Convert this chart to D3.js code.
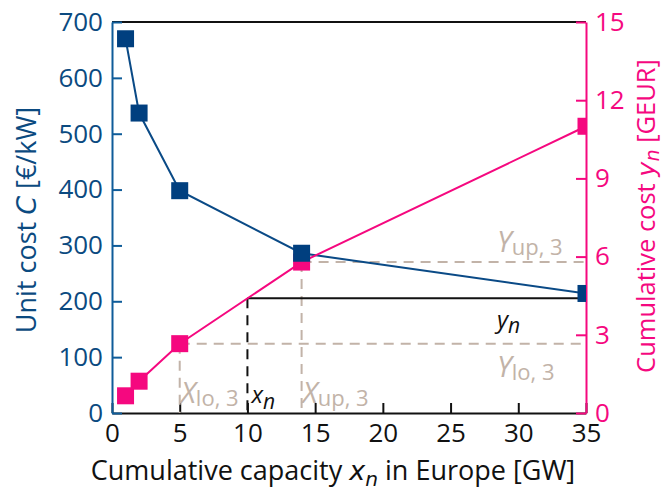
<!DOCTYPE html>
<html>
<head>
<meta charset="utf-8">
<script src="https://cdn.jsdelivr.net/npm/d3@7/dist/d3.min.js"></script>
<style>
  html, body { margin: 0; padding: 0; background: #fff; }
  svg { display: block; }
  text { font-family: "Open Sans", "Noto Sans", sans-serif; }
</style>
</head>
<body>
<svg id="chart" width="667" height="493"></svg>
<script>
// Capacity steps (GW) and the two series
const capacity = [1, 2, 5, 14, 35];
const unitCost = [670, 537, 398, 286, 214];        // €/kW
const cumulativeCost = [0.66, 1.22, 2.66, 5.79, 11.0]; // GEUR

const xTicks = [0, 5, 10, 15, 20, 25, 30, 35];
const leftTicks = [0, 100, 200, 300, 400, 500, 600, 700];
const rightTicks = [0, 3, 6, 9, 12, 15];

// Interpolation segment (n = 3) and the sample point
const segLo = 2, segUp = 3;  // indices into capacity / cumulativeCost
const xn = 10;

const BLUE = "#0a4a86", BLUE_MARK = "#003f7f", BLUE_TXT = "#0b4a80";
const PINK = "#f5087f", TAN = "#c2b3a8";

const W = 667, H = 493;
const m = { left: 112, right: 81, top: 22, bottom: 80 };
const svg = d3.select("#chart");

const x = d3.scaleLinear().domain([0, 35]).range([m.left, W - m.right]);
const yL = d3.scaleLinear().domain([0, 700]).range([H - m.bottom, m.top]);
const yR = d3.scaleLinear().domain([0, 15]).range([H - m.bottom, m.top]);

svg.append("defs").append("clipPath").attr("id", "plot")
  .append("rect").attr("x", m.left).attr("y", m.top)
  .attr("width", W - m.left - m.right).attr("height", H - m.top - m.bottom);

// Frame top line
svg.append("line").attr("x1", m.left).attr("x2", W - m.right)
  .attr("y1", m.top).attr("y2", m.top).attr("stroke", "#111").attr("stroke-width", 2);

// Axes
const fs = 26;
const gx = svg.append("g").attr("transform", `translate(0,${H - m.bottom})`)
  .call(d3.axisBottom(x).tickValues(xTicks).tickSizeInner(-10).tickSizeOuter(0).tickPadding(11));
gx.select(".domain").attr("stroke", "#111").attr("stroke-width", 2);
gx.selectAll(".tick line").attr("stroke", "#111").attr("stroke-width", 2);
gx.selectAll(".tick text").attr("font-size", fs).attr("fill", "#111")
  .attr("font-family", "Open Sans");

const gl = svg.append("g").attr("transform", `translate(${m.left},0)`)
  .call(d3.axisLeft(yL).tickValues(leftTicks).tickSizeInner(-10).tickSizeOuter(0).tickPadding(9));
gl.select(".domain").attr("stroke", "#0f5c99").attr("stroke-width", 2);
gl.selectAll(".tick line").attr("stroke", "#0f5c99").attr("stroke-width", 2);
gl.selectAll(".tick text").attr("font-size", fs).attr("fill", BLUE_TXT)
  .attr("font-family", "Open Sans");

const gr = svg.append("g").attr("transform", `translate(${W - m.right},0)`)
  .call(d3.axisRight(yR).tickValues(rightTicks).tickSizeInner(-10).tickSizeOuter(0).tickPadding(9));
gr.select(".domain").attr("stroke", PINK).attr("stroke-width", 2);
gr.selectAll(".tick line").attr("stroke", PINK).attr("stroke-width", 2);
gr.selectAll(".tick text").attr("font-size", fs).attr("fill", PINK)
  .attr("font-family", "Open Sans");

// Axis titles
const tfs = 27;
const xt = svg.append("text").attr("x", (m.left + W - m.right) / 2 - 16).attr("y", 480)
  .attr("text-anchor", "middle").attr("font-size", tfs).attr("fill", "#111");
xt.append("tspan").text("Cumulative capacity ");
xt.append("tspan").text("x").attr("font-family", "DejaVu Sans").attr("font-style", "italic");
xt.append("tspan").text("n").attr("font-family", "DejaVu Sans").attr("font-style", "italic")
  .attr("font-size", tfs * 0.75).attr("dy", 6);
xt.append("tspan").text(" in Europe [GW]").attr("dy", -6);

const lt = svg.append("text").attr("transform", "translate(36,220) rotate(-90)")
  .attr("text-anchor", "middle").attr("font-size", tfs).attr("fill", BLUE_TXT);
lt.append("tspan").text("Unit cost ");
lt.append("tspan").text("C").attr("font-family", "DejaVu Sans").attr("font-style", "italic");
lt.append("tspan").text(" [€/kW]");

const rfs = 25.5;
const rt = svg.append("text").attr("transform", "translate(655,216) rotate(-90)")
  .attr("text-anchor", "middle").attr("font-size", rfs).attr("fill", PINK);
rt.append("tspan").text("Cumulative cost ");
rt.append("tspan").text("y").attr("font-family", "DejaVu Sans").attr("font-style", "italic");
rt.append("tspan").text("n").attr("font-family", "DejaVu Sans").attr("font-style", "italic")
  .attr("font-size", rfs * 0.75).attr("dy", 4);
rt.append("tspan").text(" [GEUR]").attr("dy", -4);

// Guide lines for the interpolation step
const plot = svg.append("g").attr("clip-path", "url(#plot)");
const yLo = cumulativeCost[segLo], yUp = cumulativeCost[segUp];
const xLo = capacity[segLo], xUp = capacity[segUp];
const yn = yLo + (xn - xLo) / (xUp - xLo) * (yUp - yLo);

const dash = "10,7";
plot.append("line").attr("x1", x(xLo)).attr("x2", x(35)).attr("y1", yR(yLo)).attr("y2", yR(yLo))
  .attr("stroke", TAN).attr("stroke-width", 2).attr("stroke-dasharray", dash);
plot.append("line").attr("x1", x(xUp)).attr("x2", x(35)).attr("y1", yR(yUp)).attr("y2", yR(yUp))
  .attr("stroke", TAN).attr("stroke-width", 2).attr("stroke-dasharray", dash);
plot.append("line").attr("x1", x(xLo)).attr("x2", x(xLo)).attr("y1", yR(yLo)).attr("y2", yR(0))
  .attr("stroke", TAN).attr("stroke-width", 2).attr("stroke-dasharray", dash);
plot.append("line").attr("x1", x(xUp)).attr("x2", x(xUp)).attr("y1", yR(yUp)).attr("y2", yR(0))
  .attr("stroke", TAN).attr("stroke-width", 2).attr("stroke-dasharray", dash);
plot.append("line").attr("x1", x(xn)).attr("x2", x(xn)).attr("y1", yR(yn)).attr("y2", yR(0))
  .attr("stroke", "#111").attr("stroke-width", 2).attr("stroke-dasharray", dash);
plot.append("line").attr("x1", x(xn)).attr("x2", x(35)).attr("y1", yR(yn)).attr("y2", yR(yn))
  .attr("stroke", "#111").attr("stroke-width", 2);

// Series lines
const lineL = d3.line().x((d, i) => x(capacity[i])).y(d => yL(d));
const lineR = d3.line().x((d, i) => x(capacity[i])).y(d => yR(d));
plot.append("path").attr("d", lineL(unitCost)).attr("fill", "none")
  .attr("stroke", BLUE).attr("stroke-width", 2);
plot.append("path").attr("d", lineR(cumulativeCost)).attr("fill", "none")
  .attr("stroke", PINK).attr("stroke-width", 2);

// Square markers
const S = 17;
plot.selectAll(".mR").data(cumulativeCost).join("rect").attr("class", "mR")
  .attr("x", (d, i) => x(capacity[i]) - S / 2).attr("y", d => yR(d) - S / 2)
  .attr("width", S).attr("height", S).attr("fill", PINK);
plot.selectAll(".mL").data(unitCost).join("rect").attr("class", "mL")
  .attr("x", (d, i) => x(capacity[i]) - S / 2).attr("y", d => yL(d) - S / 2)
  .attr("width", S).attr("height", S).attr("fill", BLUE_MARK);

// Annotation labels: italic symbol with a lowered subscript
function label(px, py, main, sub, color, size, subSize, drop, italicSub) {
  const t = svg.append("text").attr("x", px).attr("y", py).attr("fill", color)
    .attr("font-family", "DejaVu Sans").attr("font-size", size);
  t.append("tspan").text(main).attr("font-style", "italic");
  t.append("tspan").text(sub).attr("font-size", subSize).attr("dy", drop)
    .attr("font-style", italicSub ? "italic" : "normal");
}
label(x(xLo) + 1, 403, "X", "lo, 3", TAN, 29, 22, 3, false);
label(x(xn) + 4, 403, "x", "n", "#111", 24, 21, 6, true);
label(x(xUp) + 1, 403, "X", "up, 3", TAN, 29, 22, 3, false);
label(497, 252, "Y", "up, 3", TAN, 29, 22, 3, false);
label(497, 328, "y", "n", "#111", 24, 21, 5, true);
label(497, 377, "Y", "lo, 3", TAN, 29, 22, 3, false);
</script>
</body>
</html>
